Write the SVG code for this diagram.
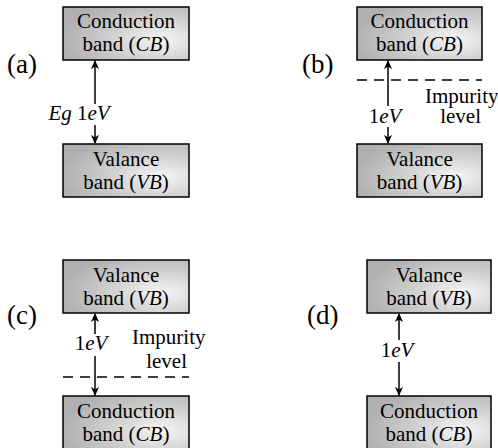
<svg xmlns="http://www.w3.org/2000/svg" width="498" height="448" viewBox="0 0 498 448" font-family="'Liberation Serif', 'Times New Roman', serif">
<defs>
<radialGradient id="g" cx="0.78" cy="0.62" r="0.8" fx="0.78" fy="0.62">
<stop offset="0" stop-color="#f6f6f6"/>
<stop offset="0.5" stop-color="#d0d0d0"/>
<stop offset="1" stop-color="#b0b0b0"/>
</radialGradient>
<marker id="ah" viewBox="0 0 10 10" refX="9" refY="5" markerWidth="9" markerHeight="9" markerUnits="userSpaceOnUse" orient="auto-start-reverse">
<path d="M0,0.5 L10,5 L0,9.5 L3,5 Z" fill="#000"/>
</marker>
</defs>
<style>
text{fill:#000}
.b{font-size:21px;text-anchor:middle}
.t{font-size:21px}
.l{font-size:27px}
.box{fill:url(#g);stroke:#000;stroke-width:1.5}
.ln{stroke:#000;stroke-width:1.5;fill:none}
.dash{stroke:#000;stroke-width:1.5;stroke-dasharray:10,7;fill:none}
.i{font-style:italic}
</style>
<rect width="498" height="448" fill="#fff"/>

<text class="l" x="7" y="73">(a)</text>
<text class="l" x="302" y="73">(b)</text>
<text class="l" x="7" y="324">(c)</text>
<text class="l" x="307" y="324">(d)</text>

<g id="a-cb"><rect class="box" x="63" y="7" width="126" height="53"/>
<text class="b" x="126" y="28">Conduction</text><text class="b" x="126" y="51">band (<tspan class="i">CB</tspan>)</text></g>
<g id="a-vb"><rect class="box" x="63" y="144" width="126" height="53"/>
<text class="b" x="126" y="166">Valance</text><text class="b" x="126" y="189">band (<tspan class="i">VB</tspan>)</text></g>

<g id="b-cb"><rect class="box" x="357" y="7" width="125" height="53"/>
<text class="b" x="419.5" y="28">Conduction</text><text class="b" x="419.5" y="51">band (<tspan class="i">CB</tspan>)</text></g>
<g id="b-vb"><rect class="box" x="357" y="144" width="125" height="53"/>
<text class="b" x="419.5" y="166">Valance</text><text class="b" x="419.5" y="189">band (<tspan class="i">VB</tspan>)</text></g>

<g id="c-vb"><rect class="box" x="63" y="260" width="126" height="53"/>
<text class="b" x="126" y="282">Valance</text><text class="b" x="126" y="305">band (<tspan class="i">VB</tspan>)</text></g>
<g id="c-cb"><rect class="box" x="63" y="396" width="126" height="56"/>
<text class="b" x="126" y="418">Conduction</text><text class="b" x="126" y="441">band (<tspan class="i">CB</tspan>)</text></g>

<g id="d-vb"><rect class="box" x="367" y="260" width="124" height="53"/>
<text class="b" x="429" y="282">Valance</text><text class="b" x="429" y="305">band (<tspan class="i">VB</tspan>)</text></g>
<g id="d-cb"><rect class="box" x="367" y="396" width="124" height="56"/>
<text class="b" x="429" y="418">Conduction</text><text class="b" x="429" y="441">band (<tspan class="i">CB</tspan>)</text></g>

<g id="connectors">
<line class="ln" x1="95" y1="104" x2="95" y2="61" marker-end="url(#ah)"/>
<line class="ln" x1="95" y1="125" x2="95" y2="143" marker-end="url(#ah)"/>
<line class="ln" x1="388" y1="106" x2="388" y2="61" marker-end="url(#ah)"/>
<line class="ln" x1="388" y1="127" x2="388" y2="143" marker-end="url(#ah)"/>
<line class="ln" x1="95" y1="334" x2="95" y2="314" marker-end="url(#ah)"/>
<line class="ln" x1="95" y1="356" x2="95" y2="395" marker-end="url(#ah)"/>
<line class="ln" x1="399" y1="340" x2="399" y2="314" marker-end="url(#ah)"/>
<line class="ln" x1="399" y1="362" x2="399" y2="395" marker-end="url(#ah)"/>
<line class="dash" x1="357" y1="80" x2="482" y2="80"/>
<line class="dash" x1="63" y1="377" x2="189" y2="377"/>
</g>

<text class="b" x="79" y="120"><tspan class="i">Eg</tspan> 1<tspan class="i">eV</tspan></text>
<text class="b" x="385" y="123">1<tspan class="i">eV</tspan></text>
<text class="t" x="425" y="103">Impurity</text>
<text class="t" text-anchor="end" x="481" y="123">level</text>
<text class="b" x="91" y="350">1<tspan class="i">eV</tspan></text>
<text class="t" x="132" y="344">Impurity</text>
<text class="t" text-anchor="end" x="187" y="368">level</text>
<text class="b" x="397" y="357">1<tspan class="i">eV</tspan></text>
</svg>
